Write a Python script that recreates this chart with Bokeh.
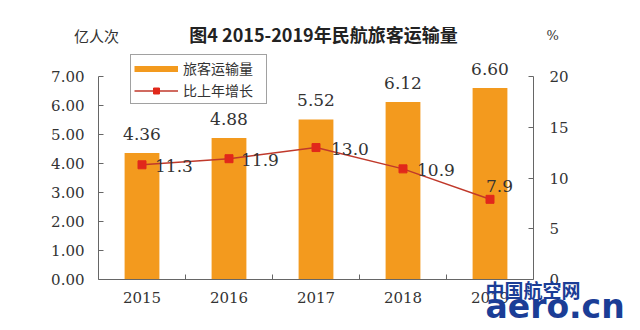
from bokeh.plotting import figure
from bokeh.models import (Range1d, LinearAxis, FixedTicker, NumeralTickFormatter,
                          ColumnDataSource, LabelSet, Label, Legend, LegendItem)
from bokeh.core.properties import value
from bokeh.embed import file_html
from bokeh.resources import INLINE

# ---- data ----
years = ["2015", "2016", "2017", "2018", "2019"]
passengers = [4.36, 4.88, 5.52, 6.12, 6.60]      # 亿人次
growth = [11.3, 11.9, 13.0, 10.9, 7.9]           # %
left_ticks = [0, 1, 2, 3, 4, 5, 6, 7]
right_ticks = [0, 5, 10, 15, 20]
left_max, right_max = 7, 20

title_text = "图4 2015-2019年民航旅客运输量"
bar_name = "旅客运输量"
line_name = "比上年增长"
left_unit = "亿人次"
right_unit = "%"

# ---- styles ----
BAR_COLOR = "#F39A1E"
LINE_COLOR = "#C0392B"
MARK_COLOR = "#E1281B"
AXIS_COLOR = "#666666"
TEXT_COLOR = "#333333"
NUM_FONT = "DejaVu Serif"
CJK_FONT = "Noto Sans CJK SC"

W, H = 640, 330
# plot area inside the canvas (pixels): left, right, top, bottom
PL, PR, PT, PB = 98, 533, 76, 279
n = len(years)
xs = list(range(1, n + 1))
ppx = (PR - PL) / n                 # pixels per category
ppy = (PB - PT) / left_max          # pixels per left-axis unit
x0 = 0.5 - PL / ppx
x1 = 0.5 + (W - PL) / ppx
y0 = -(H - PB) / ppy
y1 = PB / ppy
k = right_max / left_max

p = figure(width=W, height=H, output_backend="svg", toolbar_location=None,
           x_range=Range1d(x0, x1), y_range=Range1d(y0, y1),
           min_border=0, x_axis_location=None, y_axis_location=None)
p.extra_y_ranges = {"pct": Range1d(y0 * k, y1 * k)}
p.outline_line_color = None
p.xgrid.visible = False
p.ygrid.visible = False
p.background_fill_color = "white"
p.border_fill_color = "white"

bar_src = ColumnDataSource(dict(x=xs, y=passengers,
                                txt=["%.2f" % v for v in passengers]))
line_src = ColumnDataSource(dict(x=xs, y=growth,
                                 txt=["%.1f" % v for v in growth],
                                 xo=[13, 12, 15, 14, -4],
                                 yo=[-1, -1, -1, -1, 13]))

bars = p.vbar(x="x", top="y", width=0.4, source=bar_src, fill_color=BAR_COLOR,
              line_color=None)
ln = p.line(x="x", y="y", source=line_src, y_range_name="pct",
            line_color=LINE_COLOR, line_width=1.5)
mk = p.scatter(x="x", y="y", source=line_src, y_range_name="pct", marker="square",
               size=8, fill_color=MARK_COLOR, line_color=MARK_COLOR)
# legend swatch proxy for bars (thin bar, as in the original legend); draws nothing
nan = float("nan")
proxy = p.line(x=[nan], y=[nan], line_color=BAR_COLOR, line_width=6)

# ---- axes (fixed inside the canvas-wide frame) ----
ax_l = LinearAxis(ticker=FixedTicker(ticks=left_ticks),
                  formatter=NumeralTickFormatter(format="0.00"),
                  fixed_location=0.5, bounds=(0, left_max))
ax_r = LinearAxis(y_range_name="pct", ticker=FixedTicker(ticks=right_ticks),
                  fixed_location=n + 0.5, bounds=(0, right_max))
ax_b = LinearAxis(ticker=FixedTicker(ticks=xs, minor_ticks=[x + 0.5 for x in xs[:-1]]),
                  major_label_overrides={x: y for x, y in zip(xs, years)},
                  fixed_location=0, bounds=(0.5, n + 0.5))
for ax in (ax_l, ax_r, ax_b):
    ax.axis_line_color = AXIS_COLOR
    ax.axis_line_width = 1
    ax.major_tick_line_color = AXIS_COLOR
    ax.minor_tick_line_color = AXIS_COLOR
    ax.major_tick_in = 5
    ax.major_tick_out = 0
    ax.minor_tick_in = 0
    ax.minor_tick_out = 0
    ax.major_label_text_font = NUM_FONT
    ax.major_label_text_font_size = "15px"
    ax.major_label_text_color = TEXT_COLOR
ax_b.major_tick_in = 0
ax_b.minor_tick_in = 5
ax_l.major_label_standoff = 14
ax_r.major_label_standoff = 16
ax_b.major_label_standoff = 12
p.add_layout(ax_l, "left")
p.add_layout(ax_r, "right")
p.add_layout(ax_b, "below")

# ---- data labels ----
p.add_layout(LabelSet(x="x", y="y", text="txt", source=bar_src, text_align="center",
                      text_baseline="middle", y_offset=19, text_font=value(NUM_FONT),
                      text_font_size="17px", text_color=TEXT_COLOR))
p.add_layout(LabelSet(x="x", y="y", text="txt", source=line_src, y_range_name="pct",
                      text_align="left", text_baseline="middle", x_offset="xo",
                      y_offset="yo", text_font=value(NUM_FONT), text_font_size="17px",
                      text_color=TEXT_COLOR))

# ---- titles / units ----
p.add_layout(Label(x=3.086, y=8.48, text=title_text, text_align="center",
                   text_baseline="middle", text_font=CJK_FONT,
                   text_font_size="18px", text_font_style="bold", text_color="#222222"))
p.add_layout(Label(x=0.477, y=8.41, text=left_unit, text_align="center",
                   text_baseline="middle", text_font=CJK_FONT,
                   text_font_size="15px", text_color=TEXT_COLOR))
p.add_layout(Label(x=5.72, y=8.41, text=right_unit, text_align="center",
                   text_baseline="middle", text_font=NUM_FONT,
                   text_font_size="13px", text_color=TEXT_COLOR))

# ---- watermark ----
p.add_layout(Label(x=4.948, y=-0.345, text="中国航空网", text_align="left",
                   text_baseline="middle", text_font=CJK_FONT,
                   text_font_size="19px", text_font_style="bold", text_color="#1B3D96"))
p.add_layout(Label(x=4.948, y=-0.93, text="aero.cn", text_align="left",
                   text_baseline="middle", text_font="DejaVu Sans",
                   text_font_size="33px", text_font_style="bold", text_color="#1B3D96"))

# ---- legend ----
legend = Legend(items=[LegendItem(label=bar_name, renderers=[proxy]),
                       LegendItem(label=line_name, renderers=[ln, mk])],
                location=(130, H - 104), orientation="vertical",
                border_line_color="#444444", border_line_width=1,
                background_fill_color="white", background_fill_alpha=1,
                padding=3, spacing=2, margin=0, glyph_height=15, label_height=15,
                glyph_width=44, label_standoff=5, label_width=80,
                label_text_font=CJK_FONT, label_text_font_size="14px",
                label_text_color=TEXT_COLOR)
p.add_layout(legend, "center")

open("out.html", "w").write(file_html(p, INLINE))
